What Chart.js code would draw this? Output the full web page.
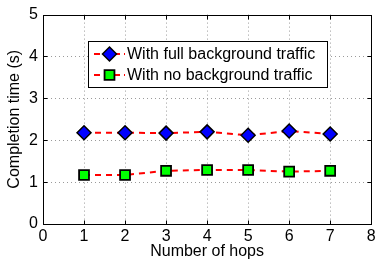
<!DOCTYPE html>
<html>
<head>
<meta charset="utf-8">
<script src="https://cdn.jsdelivr.net/npm/chart.js@4/dist/chart.umd.min.js"></script>
<style>
  html, body { margin: 0; padding: 0; background: #fff; }
  #wrap { width: 380px; height: 261px; position: relative; }
</style>
</head>
<body>
<div id="wrap"><canvas id="chart"></canvas></div>
<script>
const hops = [1, 2, 3, 4, 5, 6, 7];
const fullTraffic = [2.18, 2.18, 2.17, 2.20, 2.12, 2.22, 2.15];
const noTraffic = [1.17, 1.17, 1.27, 1.29, 1.29, 1.25, 1.27];
const xTicks = [0, 1, 2, 3, 4, 5, 6, 7, 8];
const yTicks = [0, 1, 2, 3, 4, 5];
const seriesLabels = ['With full background traffic', 'With no background traffic'];

const FONT = '"Liberation Sans", Arial, Helvetica, sans-serif';

const toPoints = (ys) => hops.map((h, i) => ({ x: h, y: ys[i] }));

// matlab style box, dotted grid and inward ticks
const framePlugin = {
  id: 'frame',
  beforeDatasetsDraw(chart) {
    const { ctx, chartArea: a, scales } = chart;
    ctx.save();
    ctx.strokeStyle = '#9a9a9a';
    ctx.lineWidth = 1;
    ctx.setLineDash([1, 3]);
    xTicks.slice(1, -1).forEach(v => {
      const px = Math.round(scales.x.getPixelForValue(v)) + 0.5;
      ctx.beginPath(); ctx.moveTo(px, a.top); ctx.lineTo(px, a.bottom); ctx.stroke();
    });
    yTicks.slice(1, -1).forEach(v => {
      const py = Math.round(scales.y.getPixelForValue(v)) + 0.5;
      ctx.beginPath(); ctx.moveTo(a.left, py); ctx.lineTo(a.right, py); ctx.stroke();
    });
    ctx.restore();
  },
  afterDatasetsDraw(chart) {
    const { ctx, chartArea: a, scales } = chart;
    ctx.save();
    ctx.strokeStyle = '#000';
    ctx.lineWidth = 1;
    const L = Math.round(a.left) + 0.5, R = Math.round(a.right) + 0.5;
    const T = Math.round(a.top) + 0.5, B = Math.round(a.bottom) + 0.5;
    ctx.strokeRect(L, T, R - L, B - T);
    const tl = 4;
    xTicks.forEach(v => {
      const px = Math.round(scales.x.getPixelForValue(v)) + 0.5;
      ctx.beginPath();
      ctx.moveTo(px, B); ctx.lineTo(px, B - tl);
      ctx.moveTo(px, T); ctx.lineTo(px, T + tl);
      ctx.stroke();
    });
    yTicks.forEach(v => {
      const py = Math.round(scales.y.getPixelForValue(v)) + 0.5;
      ctx.beginPath();
      ctx.moveTo(L, py); ctx.lineTo(L + tl, py);
      ctx.moveTo(R, py); ctx.lineTo(R - tl, py);
      ctx.stroke();
    });
    ctx.restore();
  }
};

// boxed legend inside the axes, like the original
const legendPlugin = {
  id: 'boxLegend',
  afterDraw(chart) {
    const { ctx } = chart;
    const box = { x: 88.5, y: 41.5, w: 239, h: 46 };
    ctx.save();
    ctx.fillStyle = '#fff';
    ctx.fillRect(box.x, box.y, box.w, box.h);
    ctx.strokeStyle = '#000';
    ctx.lineWidth = 1;
    ctx.strokeRect(box.x, box.y, box.w, box.h);
    const rowsY = [54, 75];
    chart.data.datasets.forEach((ds, i) => {
      const y = rowsY[i];
      ctx.strokeStyle = ds.borderColor;
      ctx.lineWidth = 2;
      ctx.setLineDash([6, 4]);
      ctx.beginPath(); ctx.moveTo(94, y); ctx.lineTo(125, y); ctx.stroke();
      ctx.setLineDash([]);
      ctx.fillStyle = ds.pointBackgroundColor;
      ctx.strokeStyle = ds.pointBorderColor;
      ctx.lineWidth = ds.pointBorderWidth;
      Chart.helpers.drawPoint(ctx, {
        pointStyle: ds.pointStyle,
        radius: ds.pointRadius,
        borderWidth: ds.pointBorderWidth
      }, 109.5, y);
      ctx.fillStyle = '#000';
      ctx.font = '16px ' + FONT;
      ctx.textBaseline = 'middle';
      ctx.fillText(ds.label, 127, y + 1);
    });
    ctx.restore();
  }
};

new Chart(document.getElementById('chart'), {
  type: 'line',
  data: {
    datasets: [
      {
        label: seriesLabels[0],
        data: toPoints(fullTraffic),
        borderColor: '#ff0000',
        borderWidth: 2,
        borderDash: [6, 5],
        pointStyle: 'rectRot',
        pointRadius: 7,
        pointBackgroundColor: '#0000ff',
        pointBorderColor: '#000',
        pointBorderWidth: 1.5,
        tension: 0
      },
      {
        label: seriesLabels[1],
        data: toPoints(noTraffic),
        borderColor: '#ff0000',
        borderWidth: 2,
        borderDash: [6, 5],
        pointStyle: 'rect',
        pointRadius: 7,
        pointBackgroundColor: '#00ff00',
        pointBorderColor: '#000',
        pointBorderWidth: 1.8,
        tension: 0
      }
    ]
  },
  options: {
    responsive: true,
    maintainAspectRatio: false,
    animation: false,
    layout: { padding: { left: 0, top: 12, right: 5, bottom: 0 } },
    plugins: {
      legend: { display: false },
      tooltip: { enabled: false }
    },
    scales: {
      x: {
        type: 'linear',
        min: 0,
        max: 8,
        afterBuildTicks: (s) => { s.ticks = xTicks.map(v => ({ value: v })); },
        afterFit: (s) => { s.height = 37; },
        grid: { display: false, drawTicks: false },
        border: { display: false },
        ticks: { color: '#000', font: { family: FONT, size: 16 }, padding: 3, maxRotation: 0 },
        title: {
          display: true, text: 'Number of hops', color: '#000',
          font: { family: FONT, size: 16 }, padding: { top: 0, bottom: 0 }
        }
      },
      y: {
        type: 'linear',
        min: 0,
        max: 5,
        afterBuildTicks: (s) => { s.ticks = yTicks.map(v => ({ value: v })); },
        afterFit: (s) => { s.width = 43; },
        grid: { display: false, drawTicks: false },
        border: { display: false },
        ticks: { color: '#000', font: { family: FONT, size: 16 }, padding: 5 },
        title: {
          display: true, text: 'Completion time (s)', color: '#000',
          font: { family: FONT, size: 16 }, padding: { top: 5, bottom: 0 }
        }
      }
    }
  },
  plugins: [framePlugin, legendPlugin]
});
</script>
</body>
</html>
